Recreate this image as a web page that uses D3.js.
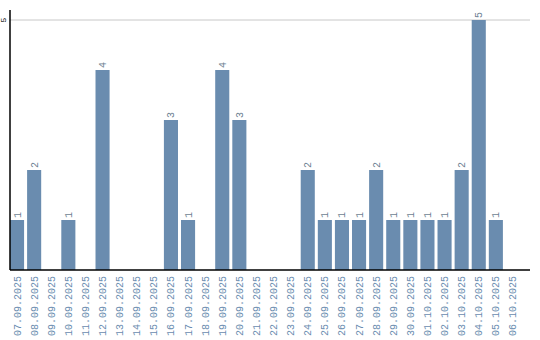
<!DOCTYPE html>
<html>
  <head>
    <meta charset="utf-8">
    <script src="https://d3js.org/d3.v7.min.js"></script>
    <style>
      body { margin: 0; background: #fff; }
      text { font-family: "Liberation Mono", "DejaVu Sans Mono", monospace; }
    </style>
  </head>
  <body>
    <svg></svg>
    <script type="text/javascript">

      var dates = ["07.09.2025","08.09.2025","09.09.2025","10.09.2025","11.09.2025","12.09.2025",
                   "13.09.2025","14.09.2025","15.09.2025","16.09.2025","17.09.2025","18.09.2025",
                   "19.09.2025","20.09.2025","21.09.2025","22.09.2025","23.09.2025","24.09.2025",
                   "25.09.2025","26.09.2025","27.09.2025","28.09.2025","29.09.2025","30.09.2025",
                   "01.10.2025","02.10.2025","03.10.2025","04.10.2025","05.10.2025","06.10.2025"];
      var counts = [1,2,0,1,0,4,0,0,0,3,1,0,4,3,0,0,0,2,1,1,1,2,1,1,1,1,2,5,1,0];
      var yTicks = [5];

      var width = 540, height = 340;
      var plotLeft = 10, plotTop = 20, plotBottom = 270;

      var rows = dates.map((d, i) => ({date: d, count: counts[i]}));

      var svg = d3.select("svg").attr("width", width).attr("height", height);

      var x = d3.scaleBand().domain(dates).range([plotLeft, plotLeft + dates.length * 17])
                .paddingInner(3/17).paddingOuter(0).align(0);
      var y = d3.scaleLinear().domain([0, 5]).range([plotBottom, plotTop]);

      // grid
      svg.selectAll("line.grid").data(yTicks).join("line")
        .attr("class", "grid")
        .attr("x1", plotLeft).attr("x2", 530)
        .attr("y1", d => y(d)).attr("y2", d => y(d))
        .attr("stroke", "#c8c8c8").attr("stroke-width", 1);

      svg.selectAll("text.ytick").data(yTicks).join("text")
        .attr("class", "ytick")
        .attr("transform", d => "translate(6," + y(d) + ") rotate(-90)")
        .attr("text-anchor", "middle")
        .attr("font-size", 8)
        .attr("fill", "#000")
        .text(d => d);

      // bars
      svg.selectAll("rect").data(rows).join("rect")
        .attr("x", d => x(d.date))
        .attr("width", x.bandwidth())
        .attr("y", d => y(d.count))
        .attr("height", d => plotBottom - y(d.count))
        .attr("fill", "#6a8caf");

      svg.selectAll("text.val").data(rows.filter(d => d.count > 0)).join("text")
        .attr("class", "val")
        .attr("transform", d => "translate(" + (x(d.date) + x.bandwidth()/2 + 3.5) + "," + (y(d.count) - 2) + ") rotate(-90)")
        .attr("text-anchor", "start")
        .attr("font-size", 10)
        .attr("fill", "#6d7f92")
        .text(d => d.count);

      // axes lines
      svg.append("line").attr("x1", plotLeft).attr("x2", plotLeft).attr("y1", 10).attr("y2", plotBottom)
        .attr("stroke", "#000").attr("stroke-width", 1.5);
      svg.append("line").attr("x1", plotLeft).attr("x2", 530).attr("y1", plotBottom).attr("y2", plotBottom)
        .attr("stroke", "#000").attr("stroke-width", 1.5);

      // x labels
      svg.selectAll("text.xl").data(dates).join("text")
        .attr("class", "xl")
        .attr("transform", d => "translate(" + (x(d) + x.bandwidth()/2 + 3.5) + "," + (plotBottom + 6) + ") rotate(-90)")
        .attr("text-anchor", "end")
        .attr("font-size", 10)
        .attr("fill", "#6a8caf")
        .text(d => d);

    </script>
  </body>
</html>
